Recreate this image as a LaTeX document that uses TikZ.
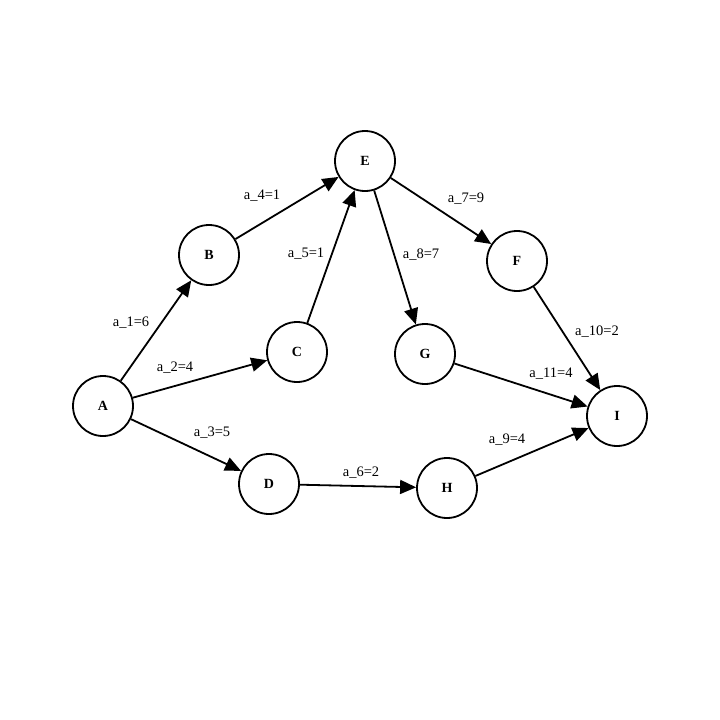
\documentclass[tikz,border=0pt]{standalone}
\usepackage{fontspec}
\setmainfont{Liberation Serif}
\usetikzlibrary{arrows.meta}

\begin{document}
\begin{tikzpicture}[x=1pt, y=-1pt,
  state/.style={circle, draw, line width=1.8pt, minimum size=60pt, inner sep=0pt, font=\fontsize{14}{16}\selectfont\bfseries},
  arc/.style={line width=1.8pt, -{Triangle[length=16pt,width=14pt]}},
  lbl/.style={font=\fontsize{14.5}{16}\selectfont, inner sep=0pt}]

\useasboundingbox (0,0) rectangle (720,720);

% draw states
\node (A) [state] at (103,406) {A};
\node (B) [state] at (209,255) {B};
\node (C) [state] at (297,352) {C};
\node (D) [state] at (269,484) {D};
\node (E) [state] at (365,161) {E};
\node (F) [state] at (517,261) {F};
\node (G) [state] at (425,354) {G};
\node (H) [state] at (447,488) {H};
\node (I) [state] at (617,416) {I};

% draw activities
\draw [arc] (A) -- (B) node [lbl] at (131,323) {a\_1=6};
\draw [arc] (A) -- (C) node [lbl] at (175,368) {a\_2=4};
\draw [arc] (A) -- (D) node [lbl] at (212,433) {a\_3=5};
\draw [arc] (B) -- (E) node [lbl] at (262,196) {a\_4=1};
\draw [arc] (C) -- (E) node [lbl] at (306,254) {a\_5=1};
\draw [arc] (D) -- (H) node [lbl] at (361,473) {a\_6=2};
\draw [arc] (E) -- (F) node [lbl] at (466,199) {a\_7=9};
\draw [arc] (E) -- (G) node [lbl] at (421,255) {a\_8=7};
\draw [arc] (H) -- (I) node [lbl] at (507,440) {a\_9=4};
\draw [arc] (F) -- (I) node [lbl] at (597,332) {a\_10=2};
\draw [arc] (G) -- (I) node [lbl] at (551,374) {a\_11=4};

\end{tikzpicture}
\end{document}
